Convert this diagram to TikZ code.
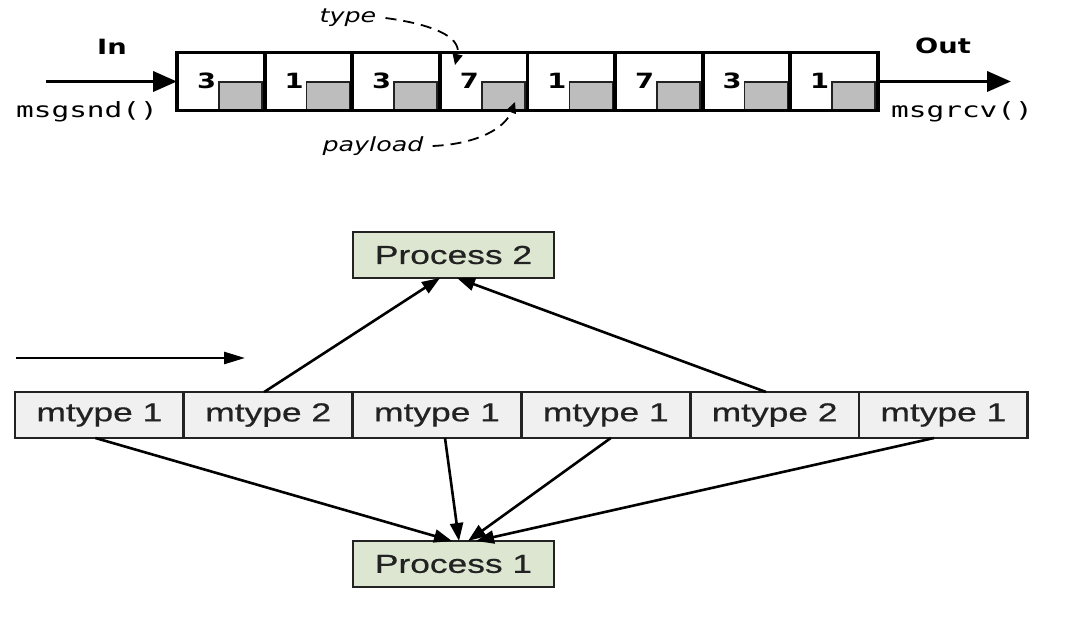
\documentclass[tikz,border=0pt]{standalone}
\usepackage{fontspec}
\usetikzlibrary{arrows.meta}
\newfontfamily\lsans[FakeStretch=1.36,FakeBold=0.6]{Liberation Sans}
\newfontfamily\dsans[FakeStretch=1.3]{DejaVu Sans}
\newfontfamily\dmono[FakeStretch=1.4]{DejaVu Sans Mono}
\definecolor{procfill}{HTML}{DCE6D0}
\definecolor{cellfill}{HTML}{F0F0F0}
\definecolor{payfill}{HTML}{BEBDBE}
\definecolor{edge}{HTML}{222222}
\begin{document}
\begin{tikzpicture}[x=1pt,y=-1pt,
  qcell/.style={draw=black,line width=3.8pt,fill=white,minimum width=87.6pt,minimum height=58pt,inner sep=0pt,outer sep=0pt},
  paybox/.style={draw=edge,line width=1.5pt,fill=payfill,minimum width=43pt,minimum height=29.5pt,inner sep=0pt},
  digit/.style={font=\dsans\bfseries\fontsize{21}{24}\selectfont,inner sep=0pt},
  lbl/.style={font=\dsans\bfseries\fontsize{21}{24}\selectfont,inner sep=0pt},
  fn/.style={font=\dmono\fontsize{21}{24}\selectfont,inner sep=0pt},
  note/.style={font=\dsans\itshape\fontsize{19.5}{22}\selectfont,inner sep=0pt},
  bigarrow/.style={line width=3.8pt,-{Triangle[length=24pt,width=20pt]}},
  dasharrow/.style={line width=1.8pt,dash pattern=on 11pt off 7pt,-{Triangle[length=11pt,width=10pt]}},
  mcell/.style={draw=edge,line width=2.8pt,fill=cellfill,minimum width=168.8pt,minimum height=46pt,inner sep=0pt,outer sep=0pt,font=\lsans\fontsize{26}{30}\selectfont,text=edge},
  proc/.style={draw=edge,line width=2.8pt,fill=procfill,minimum width=201pt,minimum height=46pt,inner sep=0pt,outer sep=0pt,font=\lsans\fontsize{26}{30}\selectfont,text=edge},
  flow/.style={draw=black,line width=2.6pt,-{Triangle[length=18pt,width=13pt]}}]
\useasboundingbox (0,0) rectangle (1076,620);
\fill[white] (0,0) rectangle (1076,620);

% ---- top queue ----
\foreach \i/\d in {0/3,1/1,2/3,3/7,4/1,5/7,6/3,7/1}{
  \node[qcell] (c\i) at ({177+87.6*\i+43.8},81.5) {};
}
\foreach \i/\d in {0/3,1/1,2/3,3/7,4/1,5/7,6/3,7/1}{
  \node[paybox,anchor=south east] (g\i) at ([xshift=-1.9pt,yshift=-1.9pt]c\i.south east) {};
  \node[digit] (d\i) at ({177+87.6*\i+29.5},81) {\d};
}
\draw[line width=3.8pt] (c0.north west) rectangle (c7.south east);

\coordinate (inS) at (46,81.5);
\coordinate (outE) at (1011,81.5);
\draw[bigarrow] (inS) -- (c0.west);
\draw[bigarrow] (c7.east) -- (outE);
\node[lbl] (inl) at (112,47) {In};
\node[lbl] (outl) at (943,46) {Out};
\node[fn] (snd) at (87,112) {msgsnd()};
\node[fn] (rcv) at (962,112) {msgrcv()};
\node[note] (typ) at (348,18) {type};
\node[note] (pay) at (373,146) {payload};
\coordinate (typT) at (455,65);
\coordinate (payT) at (515,102);
\draw[dasharrow] ([xshift=9pt]typ.east) .. controls (430,24) and (462,36) .. (typT);
\draw[dasharrow] ([xshift=9pt]pay.east) .. controls (478,144) and (505,128) .. (payT);

% ---- bottom ----
\foreach \i/\t in {1/1,2/2,3/1,4/1,5/2,6/1}{
  \node[mcell] (m\i) at ({15+168.8*(\i-0.5)},415) {mtype \t};
}
\node[proc] (p2) at (453.5,255) {Process 2};
\node[proc] (p1) at (453.5,564) {Process 1};

\coordinate (la) at (16,358);
\coordinate (lb) at (245,358);
\draw[line width=2.6pt,-{Triangle[length=21pt,width=12pt]}] (la) -- (lb);

\draw[flow] ([xshift=-4pt]m2.north) -- ([xshift=-13.5pt]p2.south);
\draw[flow] ([xshift=-8.6pt]m5.north) -- ([xshift=3.5pt]p2.south);
\draw[flow] ([xshift=-4pt]m1.south) -- ([xshift=-1.5pt]p1.north);
\draw[flow] ([xshift=8pt]m3.south) -- ([xshift=5.5pt]p1.north);
\draw[flow] ([xshift=5pt]m4.south) -- ([xshift=14.5pt]p1.north);
\draw[flow] ([xshift=-9.4pt]m6.south) -- ([xshift=22.5pt]p1.north);
\end{tikzpicture}
\end{document}
